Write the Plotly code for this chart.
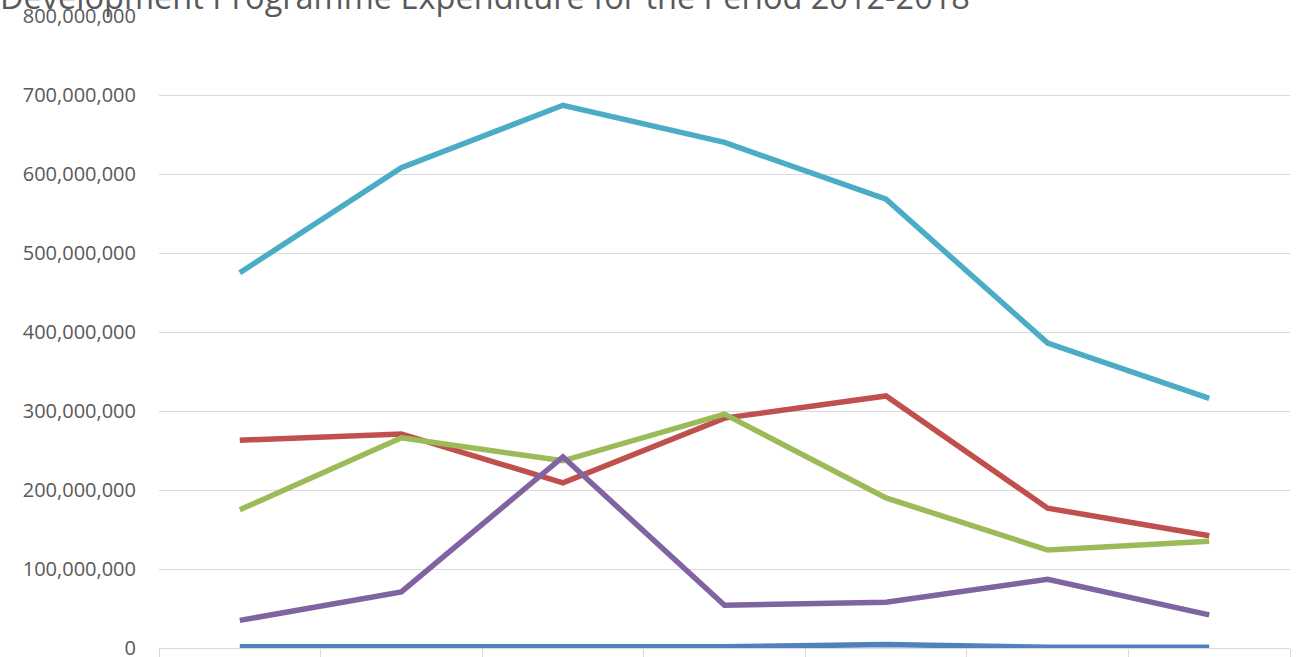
import plotly.graph_objects as go

years = ["2012", "2013", "2014", "2015", "2016", "2017", "2018"]

series_names = ["Series 1", "Series 2", "Series 3", "Series 4", "Series 5"]
series_1 = [1_500_000, 2_000_000, 2_000_000, 1_500_000, 4_500_000, 1_000_000, 1_000_000]
series_2 = [263_000_000, 271_000_000, 209_000_000, 291_000_000, 319_000_000, 177_000_000, 142_000_000]
series_3 = [175_000_000, 266_000_000, 237_000_000, 296_000_000, 190_000_000, 124_000_000, 135_000_000]
series_4 = [35_000_000, 71_000_000, 242_000_000, 54_000_000, 58_000_000, 87_000_000, 42_000_000]
series_5 = [475_000_000, 608_000_000, 687_000_000, 640_000_000, 568_000_000, 386_000_000, 316_000_000]

colors = ["#4F81BD", "#C0504D", "#9BBB59", "#8064A2", "#4BACC6"]

title_text = "Development Programme Expenditure for the Period 2012-2018"
y_ticks = list(range(0, 800_000_001, 100_000_000))

fig = go.Figure()
for name, values, color in zip(series_names,
                               [series_1, series_2, series_3, series_4, series_5],
                               colors):
    fig.add_trace(go.Scatter(
        x=years, y=values, name=name, mode="lines",
        line=dict(color=color, width=5.5),
    ))

fig.update_layout(
    width=1298, height=657,
    margin=dict(l=159, r=8, t=16, b=9, autoexpand=False),
    paper_bgcolor="white", plot_bgcolor="white",
    showlegend=False,
    font=dict(family="Open Sans", color="#595959"),
    annotations=[dict(
        text=title_text, xref="paper", yref="paper",
        x=(485 - 159) / (1290 - 159), y=1, xanchor="center", yanchor="bottom",
        yshift=-5, showarrow=False,
        font=dict(family="Open Sans", size=32.5, color="#595959"),
    )],
)

fig.update_xaxes(
    type="category", range=[-0.5, 6.5], automargin=False,
    tickson="boundaries", ticks="outside", ticklen=9, tickcolor="#D9D9D9",
    tickwidth=1.3, showticklabels=False, showgrid=False,
    showline=True, linecolor="#D9D9D9", linewidth=1.3,
)
fig.update_yaxes(
    range=[0, 800_000_000], tickmode="array", tickvals=y_ticks, automargin=False,
    ticktext=[f"{v:,}" for v in y_ticks], ticklabeloverflow="allow",
    tickfont=dict(family="Open Sans", size=20, color="#595959"),
    showgrid=True, gridcolor="#D9D9D9", gridwidth=1.3,
    zeroline=False, showline=False, ticks="", ticklabelstandoff=22,
)

fig.write_html("out.html")
